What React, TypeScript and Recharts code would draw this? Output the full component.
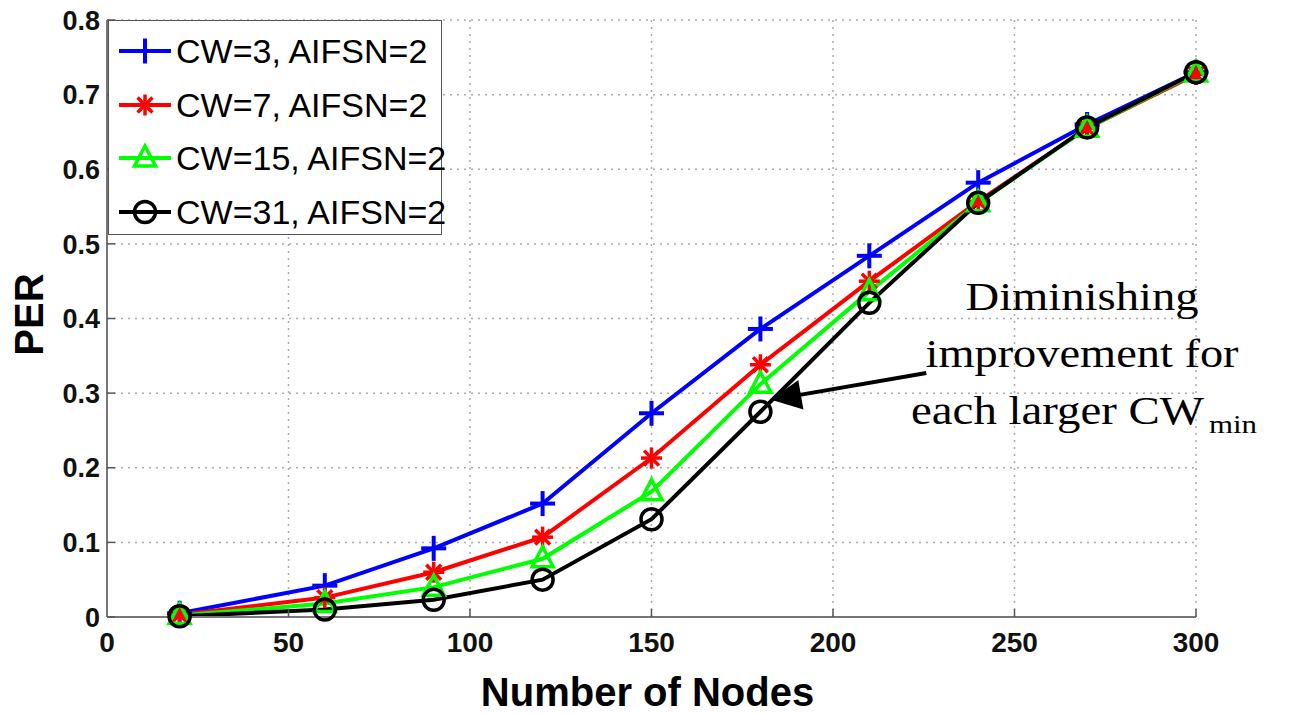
import React from 'react';
import {
  LineChart,
  Line,
  XAxis,
  YAxis,
  CartesianGrid,
  Legend,
  ReferenceLine,
  ReferenceDot,
} from 'recharts';

// ---------- data ----------
const nodes = [20, 60, 90, 120, 150, 180, 210, 240, 270, 300];
const perCW3 = [0.005, 0.042, 0.092, 0.152, 0.273, 0.386, 0.484, 0.582, 0.66, 0.73];
const perCW7 = [0.003, 0.026, 0.06, 0.107, 0.213, 0.338, 0.45, 0.557, 0.655, 0.727];
const perCW15 = [0.002, 0.018, 0.04, 0.078, 0.168, 0.312, 0.436, 0.555, 0.655, 0.729];
const perCW31 = [0.001, 0.01, 0.023, 0.05, 0.131, 0.275, 0.421, 0.555, 0.656, 0.73];

const xTicks = [0, 50, 100, 150, 200, 250, 300];
const yTicks = [0, 0.1, 0.2, 0.3, 0.4, 0.5, 0.6, 0.7, 0.8];
const yTickLabels = ['0', '0.1', '0.2', '0.3', '0.4', '0.5', '0.6', '0.7', '0.8'];

const seriesNames = ['CW=3, AIFSN=2', 'CW=7, AIFSN=2', 'CW=15, AIFSN=2', 'CW=31, AIFSN=2'];
const seriesKeys = ['cw3', 'cw7', 'cw15', 'cw31'];
const seriesColors = ['#0000ff', '#ff0000', '#00ff00', '#000000'];
const seriesMarkers = ['plus', 'star', 'triangle', 'circle'];

const annotationLines = ['Diminishing', 'improvement for', 'each larger CW'];
const annotationSub = 'min';
const arrowFrom = { x: 225.7, y: 0.327 };
const arrowTo = { x: 183.0, y: 0.291 };
const annotationAnchor = { x: 268.6, y: 0.335 };

const data = nodes.map((n, i) => ({
  n,
  cw3: perCW3[i],
  cw7: perCW7[i],
  cw15: perCW15[i],
  cw31: perCW31[i],
}));

// ---------- markers ----------
function markerShape(kind: string, cx: number, cy: number, color: string, key?: any) {
  const sw = 3.5;
  if (kind === 'plus') {
    const h = 12.5;
    return (
      <g key={key}>
        <line x1={cx - h} y1={cy} x2={cx + h} y2={cy} stroke={color} strokeWidth={sw + 0.5} />
        <line x1={cx} y1={cy - h} x2={cx} y2={cy + h} stroke={color} strokeWidth={sw + 0.5} />
      </g>
    );
  }
  if (kind === 'star') {
    const h = 10.5;
    const d = h * 0.7071;
    return (
      <g key={key}>
        <line x1={cx - h} y1={cy} x2={cx + h} y2={cy} stroke={color} strokeWidth={sw} />
        <line x1={cx} y1={cy - h} x2={cx} y2={cy + h} stroke={color} strokeWidth={sw} />
        <line x1={cx - d} y1={cy - d} x2={cx + d} y2={cy + d} stroke={color} strokeWidth={sw} />
        <line x1={cx - d} y1={cy + d} x2={cx + d} y2={cy - d} stroke={color} strokeWidth={sw} />
      </g>
    );
  }
  if (kind === 'triangle') {
    const w = 10.5;
    return (
      <g key={key}>
        <polygon
          points={`${cx},${cy - 12} ${cx + w},${cy + 8} ${cx - w},${cy + 8}`}
          fill="none"
          stroke={color}
          strokeWidth={sw}
          strokeLinejoin="miter"
        />
      </g>
    );
  }
  return (
    <g key={key}>
      <circle cx={cx} cy={cy} r={10.5} fill="none" stroke={color} strokeWidth={sw} />
    </g>
  );
}

const makeDot = (kind: string, color: string) => (props: any) => {
  const { cx, cy, index } = props;
  if (cx == null || cy == null) return <g key={`d-${index}`} />;
  return markerShape(kind, cx, cy, color, `d-${kind}-${index}`);
};

// ---------- legend ----------
const LegendBox = () => (
  <div
    style={{
      width: 334,
      height: 215,
      boxSizing: 'border-box',
      border: '1.5px solid #555',
      background: '#fff',
      position: 'relative',
    }}
  >
    {seriesNames.map((name, i) => (
      <div
        key={name}
        style={{
          position: 'absolute',
          left: 8,
          top: 30 + i * 53.5 - 22,
          height: 44,
          display: 'flex',
          alignItems: 'center',
        }}
      >
        <svg width={56} height={44} style={{ display: 'block' }}>
          <line x1={2} y1={22} x2={54} y2={22} stroke={seriesColors[i]} strokeWidth={4} />
          {markerShape(seriesMarkers[i], 28, 22, seriesColors[i])}
        </svg>
        <span
          style={{
            fontFamily: '"Liberation Sans", Arial, sans-serif',
            fontSize: 34,
            color: '#000',
            marginLeft: 3,
            whiteSpace: 'nowrap',
            lineHeight: '44px',
          }}
        >
          {name}
        </span>
      </div>
    ))}
  </div>
);

// ---------- ticks ----------
const YTick = (props: any) => {
  const { x, y, payload } = props;
  const idx = yTicks.indexOf(payload.value);
  const label = idx >= 0 ? yTickLabels[idx] : String(payload.value);
  return (
    <text
      x={x}
      y={y}
      dy="0.36em"
      textAnchor="end"
      fontFamily='"Liberation Sans", Arial, sans-serif'
      fontWeight="bold"
      fontSize={27}
      fill="#111"
    >
      {label}
    </text>
  );
};

const XTick = (props: any) => {
  const { x, y, payload } = props;
  return (
    <text
      x={x}
      y={y}
      dy="0.71em"
      textAnchor="middle"
      fontFamily='"Liberation Sans", Arial, sans-serif'
      fontWeight="bold"
      fontSize={28}
      fill="#111"
    >
      {payload.value}
    </text>
  );
};

// ---------- arrow / annotation ----------
const ArrowShape = (props: any) => {
  const { x1, y1, x2, y2 } = props;
  if ([x1, y1, x2, y2].some((v) => v == null || isNaN(v))) return <g />;
  const dx = x2 - x1;
  const dy = y2 - y1;
  const len = Math.sqrt(dx * dx + dy * dy);
  const ux = dx / len;
  const uy = dy / len;
  const headLen = 30;
  const headW = 15;
  const bx = x2 - ux * headLen;
  const by = y2 - uy * headLen;
  const px = -uy;
  const py = ux;
  return (
    <g>
      <line x1={x1} y1={y1} x2={bx + ux * 4} y2={by + uy * 4} stroke="#000" strokeWidth={4} />
      <polygon
        points={`${x2},${y2} ${bx + px * headW},${by + py * headW} ${bx - px * headW},${by - py * headW}`}
        fill="#000"
      />
    </g>
  );
};

const AnnotationShape = (props: any) => {
  const { cx, cy } = props;
  if (cx == null || cy == null) return <g />;
  const font = '"Liberation Serif", "Times New Roman", Times, serif';
  return (
    <g>
      <text
        x={cx}
        y={cy - 57}
        textAnchor="middle"
        fontFamily={font}
        fontSize={40}
        fill="#000"
        textLength={233}
        lengthAdjust="spacingAndGlyphs"
      >
        {annotationLines[0]}
      </text>
      <text
        x={cx}
        y={cy}
        textAnchor="middle"
        fontFamily={font}
        fontSize={40}
        fill="#000"
        textLength={313}
        lengthAdjust="spacingAndGlyphs"
      >
        {annotationLines[1]}
      </text>
      <text
        x={cx - 171}
        y={cy + 57}
        textAnchor="start"
        fontFamily={font}
        fontSize={40}
        fill="#000"
        textLength={293}
        lengthAdjust="spacingAndGlyphs"
      >
        {annotationLines[2]}
      </text>
      <text
        x={cx + 127}
        y={cy + 66}
        textAnchor="start"
        fontFamily={font}
        fontSize={26}
        fill="#000"
        textLength={48}
        lengthAdjust="spacingAndGlyphs"
      >
        {annotationSub}
      </text>
    </g>
  );
};

const YLabel = (props: any) => {
  const vb = props.viewBox || {};
  const cy = (vb.y ?? 20) + (vb.height ?? 597) / 2 - 4;
  const x = 43;
  return (
    <text
      x={x}
      y={cy}
      transform={`rotate(-90, ${x}, ${cy})`}
      textAnchor="middle"
      fontFamily='"Liberation Sans", Arial, sans-serif'
      fontWeight="bold"
      fontSize={40}
      fill="#000"
    >
      PER
    </text>
  );
};

const XLabel = (props: any) => {
  const vb = props.viewBox || {};
  const cx = (vb.x ?? 107) + (vb.width ?? 1089) / 2 - 4;
  return (
    <text
      x={cx}
      y={706}
      textAnchor="middle"
      fontFamily='"Liberation Sans", Arial, sans-serif'
      fontWeight="bold"
      fontSize={40}
      fill="#000"
    >
      Number of Nodes
    </text>
  );
};

export default function App() {
  return (
    <div style={{ position: 'absolute', left: 0, top: 0, width: 1290, height: 714, background: '#fff' }}>
      <LineChart
        width={1290}
        height={714}
        data={data}
        margin={{ top: 20, right: 94, bottom: 0, left: 10 }}
        style={{ background: '#fff' }}
      >
        <CartesianGrid stroke="#aaa" strokeDasharray="2 5" strokeWidth={1.5} />
        <XAxis
          dataKey="n"
          type="number"
          domain={[0, 300]}
          ticks={xTicks}
          interval={0}
          height={97}
          axisLine={{ stroke: '#777', strokeWidth: 2 }}
          tickLine={{ stroke: '#555', strokeWidth: 1.5 }}
          tickSize={-8}
          tickMargin={23}
          tick={<XTick />}
          label={<XLabel />}
        />
        <YAxis
          type="number"
          domain={[0, 0.8]}
          ticks={yTicks}
          interval={0}
          width={97}
          axisLine={{ stroke: '#777', strokeWidth: 2 }}
          tickLine={{ stroke: '#555', strokeWidth: 1.5 }}
          tickSize={-8}
          tickMargin={15}
          tick={<YTick />}
          label={<YLabel />}
        />
        {seriesKeys.map((k, i) => (
          <Line
            key={k}
            type="linear"
            dataKey={k}
            name={seriesNames[i]}
            stroke={seriesColors[i]}
            strokeWidth={4}
            dot={makeDot(seriesMarkers[i], seriesColors[i])}
            activeDot={false}
            isAnimationActive={false}
          />
        ))}
        <ReferenceLine
          segment={[arrowFrom, arrowTo]}
          stroke="#000"
          shape={(p: any) => <ArrowShape {...p} />}
          ifOverflow="visible"
        />
        <ReferenceDot
          x={annotationAnchor.x}
          y={annotationAnchor.y}
          r={0}
          shape={(p: any) => <AnnotationShape {...p} />}
          ifOverflow="visible"
        />
        <Legend
          layout="vertical"
          align="center"
          verticalAlign="middle"
          content={() => <LegendBox />}
          wrapperStyle={{ position: 'absolute', left: 108, top: 20, width: 334, height: 215 }}
        />
      </LineChart>
    </div>
  );
}
